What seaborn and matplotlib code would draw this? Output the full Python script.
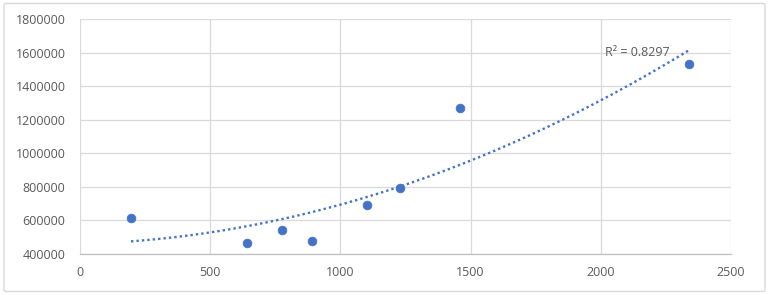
import numpy as np
import pandas as pd
import matplotlib
matplotlib.use("Agg")
import matplotlib.pyplot as plt
import seaborn as sns
from matplotlib.patches import FancyBboxPatch

# ---- data ----
x_vals = [196, 640, 775, 890, 1103, 1229, 1459, 2337]
y_vals = [613000, 467000, 543000, 478000, 690000, 792000, 1269000, 1535000]
x_ticks = [0, 500, 1000, 1500, 2000, 2500]
y_ticks = [400000, 600000, 800000, 1000000, 1200000, 1400000, 1600000, 1800000]
r2_label = "R\u00b2 = 0.8297"

sns.set_theme(style="white")
plt.rcParams['font.family'] = ['Open Sans', 'DejaVu Sans']

blue = "#4472C4"
grey_text = "#595959"
grid_col = "#D9D9D9"

fig = plt.figure(figsize=(7.71, 2.95), dpi=100)
ax = fig.add_axes([80/771, 1-254/295, 651/771, (254-19.3)/295])

df = pd.DataFrame({"x": x_vals, "y": y_vals})

# polynomial (order 2) trendline fitted from the data
coef = np.polyfit(df["x"], df["y"], 2)
xs = np.linspace(df["x"].min(), df["x"].max(), 200)
trend = pd.DataFrame({"x": xs, "y": np.polyval(coef, xs)})
sns.lineplot(data=trend, x="x", y="y", ax=ax, color=blue, lw=1.7,
             linestyle=(0, (1, 1.3)), zorder=3)
line = ax.get_lines()[-1]
line.set_dash_capstyle("butt")

sns.scatterplot(data=df, x="x", y="y", ax=ax, color=blue, s=40,
                edgecolor=blue, linewidth=0.5, zorder=4)

ax.set_xlim(0, 2500)
ax.set_ylim(400000, 1800000)
ax.set_xticks(x_ticks)
ax.set_yticks(y_ticks)
ax.set_xticklabels([str(t) for t in x_ticks])
ax.set_yticklabels([str(t) for t in y_ticks])
ax.set_xlabel("")
ax.set_ylabel("")
ax.grid(True, color=grid_col, lw=0.9)
ax.set_axisbelow(True)
for s in ["top", "right", "left"]:
    ax.spines[s].set_visible(False)
ax.spines["bottom"].set_color("#BFBFBF")
ax.spines["bottom"].set_linewidth(0.9)
ax.tick_params(axis="both", length=0, labelsize=9, colors=grey_text)
ax.tick_params(axis="y", pad=10.5)
ax.tick_params(axis="x", pad=9)

ax.text(0.806, 0.858, r2_label, transform=ax.transAxes, ha="left",
        va="center", fontsize=9, color=grey_text, zorder=5)

border = FancyBboxPatch((4/771, 3.5/295), (765-4)/771, (291.5-3.5)/295,
                        boxstyle="round,pad=0,rounding_size=0.004",
                        transform=fig.transFigure, fill=False,
                        edgecolor="#D9D9D9", lw=1.0)
fig.patches.append(border)

fig.savefig("out.png", dpi=100)
